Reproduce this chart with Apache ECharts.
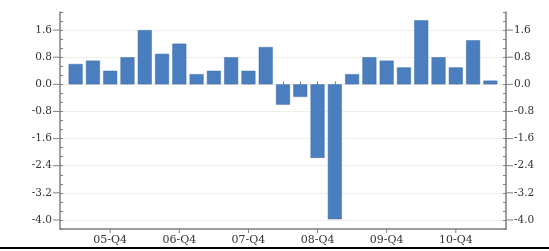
<!DOCTYPE html>
<html>
<head>
<meta charset="utf-8">
<script src="https://cdn.jsdelivr.net/npm/echarts@6/dist/echarts.min.js"></script>
<style>
html,body{margin:0;padding:0;background:#fff;}
#chart{width:549px;height:251px;}
</style>
</head>
<body>
<div id="chart"></div>
<script>
var categories = ['05-Q2','05-Q3','05-Q4','06-Q1','06-Q2','06-Q3','06-Q4','07-Q1','07-Q2','07-Q3','07-Q4','08-Q1','08-Q2','08-Q3','08-Q4','09-Q1','09-Q2','09-Q3','09-Q4','10-Q1','10-Q2','10-Q3','10-Q4','11-Q1','11-Q2'];
var values = [0.6,0.7,0.4,0.8,1.6,0.9,1.2,0.3,0.4,0.8,0.4,1.1,-0.6,-0.37,-2.17,-3.98,0.3,0.8,0.7,0.5,1.89,0.8,0.5,1.3,0.11];
var gridValues = [1.6,0.8,0.0,-0.8,-1.6,-2.4,-3.2,-4.0];
var yMin = -64/15, yMax = 32/15, yStep = 4/15, majorStep = 0.8;

var axisColor = '#7f7f7f';
var labelColor = '#333333';
var font = 'DejaVu Serif';

function majorLabel(v){
  var k = v / majorStep;
  if (Math.abs(k - Math.round(k)) < 1e-6) return (Math.round(k) * majorStep).toFixed(1);
  return null;
}

var chart = echarts.init(document.getElementById('chart'), null, {renderer:'canvas'});
chart.setOption({
  backgroundColor:'#ffffff',
  animation:false,
  grid:[
    {left:67, right:50, top:12, bottom:22},
    {left:60, right:43, top:12, bottom:22}
  ],
  xAxis:[
    {type:'category', gridIndex:0, data:categories,
     axisLine:{show:false},
     axisTick:{show:true, inside:true, length:3, interval:0, alignWithLabel:true, lineStyle:{color:axisColor, width:1}},
     axisLabel:{interval:function(i){return i%4===2;}, margin:0, color:labelColor, fontFamily:font, fontSize:11,
       formatter:function(v){return '{t|}\n{v|'+v+'}';},
       rich:{t:{width:1,height:4,backgroundColor:axisColor,align:'center'}, v:{fontFamily:font,fontSize:11,color:labelColor,lineHeight:13,padding:[1,0,0,0]}}},
     splitLine:{show:false}},
    {type:'value', gridIndex:1, min:0, max:1, show:true,
     axisLine:{show:true, onZero:false, lineStyle:{color:axisColor, width:1.5}},
     axisTick:{show:false}, axisLabel:{show:false}, splitLine:{show:false}}
  ],
  yAxis:[
    {type:'value', gridIndex:0, min:yMin, max:yMax, interval:yStep, show:false, splitLine:{show:false}},
    {type:'value', gridIndex:1, position:'left', min:yMin, max:yMax, interval:yStep,
     axisLine:{show:true, lineStyle:{color:axisColor, width:1.5}},
     axisTick:{show:true, inside:true, length:3, lineStyle:{color:axisColor}},
     axisLabel:{margin:0, color:labelColor, fontFamily:font, fontSize:10.5, showMinLabel:true, showMaxLabel:true,
       formatter:function(v){var s=majorLabel(v); return s===null?'':'{v|'+s+'}{t|}';},
       rich:{v:{fontFamily:font,fontSize:10.5,color:labelColor,padding:[0,1,0,0]}, t:{width:7,height:1,backgroundColor:axisColor,verticalAlign:'middle'}}},
     splitLine:{show:false}},
    {type:'value', gridIndex:1, position:'right', min:yMin, max:yMax, interval:yStep,
     axisLine:{show:true, lineStyle:{color:axisColor, width:1.5}},
     axisTick:{show:true, inside:true, length:3, lineStyle:{color:axisColor}},
     axisLabel:{margin:0, color:labelColor, fontFamily:font, fontSize:10.5, showMinLabel:true, showMaxLabel:true,
       formatter:function(v){var s=majorLabel(v); return s===null?'':'{t|}{v|'+s+'}';},
       rich:{v:{fontFamily:font,fontSize:10.5,color:labelColor,padding:[0,0,0,1]}, t:{width:7,height:1,backgroundColor:axisColor,verticalAlign:'middle'}}},
     splitLine:{show:false}}
  ],
  graphic:[
    {type:'line', shape:{x1:0,y1:248,x2:549,y2:248}, style:{stroke:'#000',lineWidth:2}, z:100}
  ],
  series:[
    {type:'line', xAxisIndex:1, yAxisIndex:1, data:[[0.5,null]], symbol:'none', silent:true, z:0,
     markLine:{silent:true, z:0, symbol:['none','none'], label:{show:false},
       lineStyle:{color:'#f1eee6', width:1, type:'solid'},
       data:gridValues.map(function(g){return {yAxis:g};})}},
    {type:'bar', xAxisIndex:0, yAxisIndex:0, data:values, barWidth:14, z:3,
     itemStyle:{color:'#4a7ebf', borderColor:'#3e6ea9', borderWidth:0.5}}
  ]
});
</script>
</body>
</html>
